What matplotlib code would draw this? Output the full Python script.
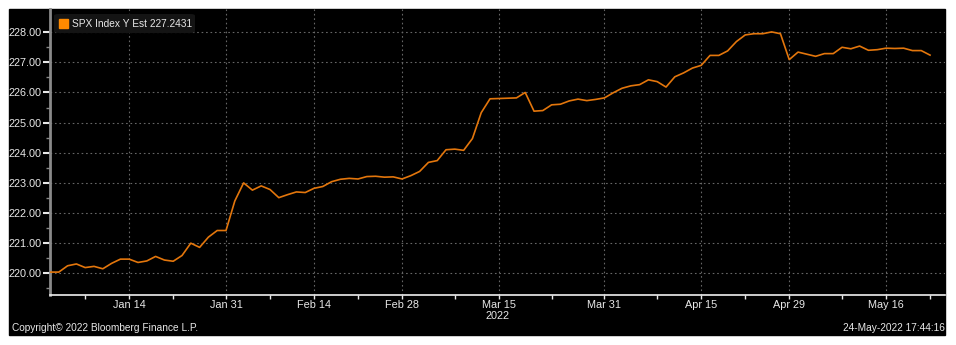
"""
SPX Index Y Est - Bloomberg-style line chart, Jan-May 2022.
"""

import matplotlib
matplotlib.use("Agg")
import matplotlib.pyplot as plt
from matplotlib.patches import Rectangle, FancyBboxPatch
import pandas as pd

# Daily estimate values (weekdays from 3 Jan 2022)
values = [
    220.04, 220.04, 220.25, 220.31, 220.19, 220.23, 220.15, 220.33, 220.47, 220.47,
    220.36, 220.41, 220.56, 220.44, 220.40, 220.59, 221.00, 220.86, 221.20, 221.42,
    221.42, 222.40, 223.00, 222.76, 222.90, 222.78, 222.51, 222.61, 222.70, 222.68,
    222.82, 222.88, 223.04, 223.12, 223.15, 223.13, 223.21, 223.22, 223.19, 223.20,
    223.13, 223.24, 223.38, 223.68, 223.74, 224.10, 224.12, 224.08, 224.47, 225.33,
    225.79, 225.80, 225.81, 225.82, 226.00, 225.38, 225.40, 225.59, 225.61, 225.72,
    225.78, 225.73, 225.77, 225.82, 225.99, 226.14, 226.22, 226.26, 226.42, 226.36,
    226.18, 226.52, 226.65, 226.81, 226.90, 227.23, 227.23, 227.38, 227.69, 227.91,
    227.95, 227.95, 228.01, 227.95, 227.09, 227.34, 227.27, 227.20, 227.29, 227.29,
    227.50, 227.45, 227.54, 227.40, 227.42, 227.47, 227.46, 227.47, 227.39, 227.39,
    227.24,
]
dates = pd.bdate_range("2022-01-03", periods=len(values))

major_dates = ["2022-01-14", "2022-01-31", "2022-02-14", "2022-02-28", "2022-03-15",
               "2022-03-31", "2022-04-15", "2022-04-29", "2022-05-16"]
major_labels = ["Jan 14", "Jan 31", "Feb 14", "Feb 28", "Mar 15",
                "Mar 31", "Apr 15", "Apr 29", "May 16"]
minor_dates = ["2022-01-07", "2022-01-21", "2022-02-07", "2022-02-21", "2022-03-08",
               "2022-03-23", "2022-04-08", "2022-04-22", "2022-05-09", "2022-05-23"]
y_ticks = [220, 221, 222, 223, 224, 225, 226, 227, 228]

legend_label = "SPX Index Y Est 227.2431"

plt.rcParams["font.family"] = ["Liberation Sans", "DejaVu Sans"]
TXT = "#e8e8e8"
FS = 7.3
W, H = 956, 345

fig = plt.figure(figsize=(W / 100, H / 100), dpi=100, facecolor="white")
# black panel
fig.patches.append(Rectangle((9 / W, 1 - 335 / H), 936 / W, 326 / H,
                             transform=fig.transFigure, color="black", zorder=0))

ax = fig.add_axes([50 / W, 1 - 295 / H, 895 / W, 286 / H])
ax.set_zorder(1)
ax.set_facecolor("black")

x = list(range(len(values)))
ax.plot(x, values, color="#e3760c", linewidth=1.2, zorder=3)

ax.set_xlim(0, 101.7)
ax.set_ylim(219.28, 228.77)

pos = {d: i for i, d in enumerate(dates)}
ax.set_xticks([pos[pd.Timestamp(d)] for d in major_dates])
ax.set_xticklabels(major_labels)
ax.set_xticks([pos[pd.Timestamp(d)] for d in minor_dates], minor=True)
ax.set_yticks(y_ticks)
ax.set_yticklabels([f"{v:.2f}" for v in y_ticks])
ax.set_yticks([v + 0.5 for v in range(219, 228)], minor=True)

ax.tick_params(axis="x", which="major", colors=TXT, labelsize=FS + 0.5, length=3, width=1, pad=0.5)
ax.tick_params(axis="x", which="minor", color=TXT, length=3, width=1)
ax.tick_params(axis="y", which="major", colors=TXT, labelsize=FS + 0.5, length=5, width=1.5, pad=1)
ax.tick_params(axis="y", which="minor", color="#888888", length=3, width=1)

ax.grid(which="major", color="#666666", linestyle=(0, (1.5, 2.5)), linewidth=0.8)

for s in ["top", "right"]:
    ax.spines[s].set_visible(False)
ax.spines["left"].set_color("#8a8a8a")
ax.spines["left"].set_linewidth(2)
ax.spines["bottom"].set_color("#f0f0f0")
ax.spines["bottom"].set_linewidth(1.2)

# legend box
fig.patches.append(FancyBboxPatch((54 / W, 1 - 33 / H), 141 / W, 19 / H,
                                  boxstyle="round,pad=0,rounding_size=0.005",
                                  transform=fig.transFigure, facecolor="#141414",
                                  edgecolor="none", zorder=5))
fig.patches.append(Rectangle((59 / W, 1 - 28 / H), 9 / W, 9 / H,
                             transform=fig.transFigure, color="#ff8a00", zorder=6))
fig.text(72 / W, 1 - 24 / H, legend_label, color=TXT, fontsize=FS,
         va="center", ha="left", zorder=7)

# year label under Mar 15
fig.text(498 / W, 1 - 316 / H, "2022", color=TXT, fontsize=FS + 0.5, ha="center", va="center")

# footer
fig.text(12 / W, 1 - 328 / H, "Copyright\u00a9 2022 Bloomberg Finance L.P.", color=TXT,
         fontsize=FS, ha="left", va="center")
fig.text(945 / W, 1 - 328 / H, "24-May-2022 17:44:16", color=TXT,
         fontsize=FS, ha="right", va="center")

plt.savefig("out.png", dpi=100, facecolor="white")
